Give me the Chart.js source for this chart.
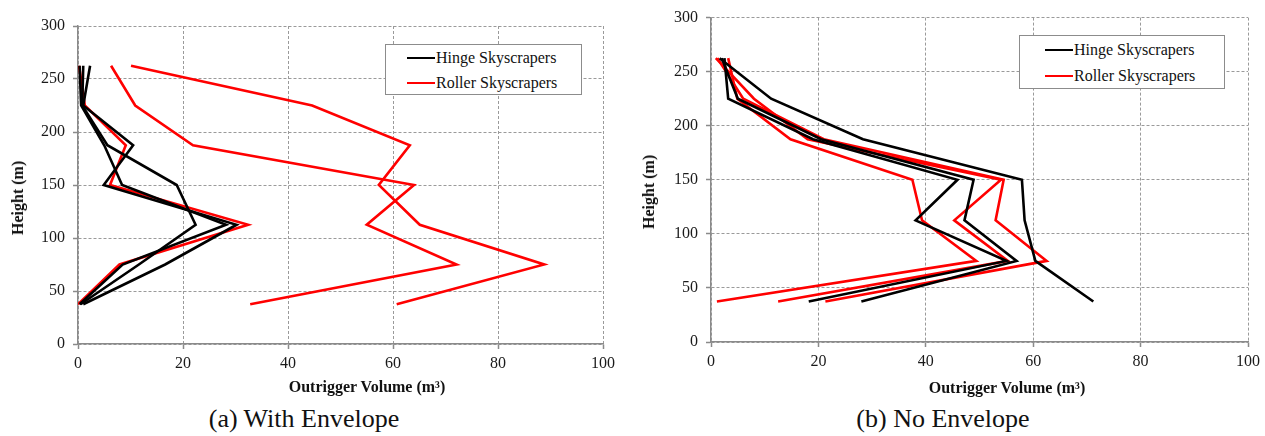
<!DOCTYPE html>
<html>
<head>
<meta charset="utf-8">
<script src="https://cdn.jsdelivr.net/npm/chart.js@4.4.1/dist/chart.umd.min.js"></script>
<style>
  html, body { margin: 0; padding: 0; background: #fff; }
  body { width: 1265px; height: 436px; position: relative; overflow: hidden;
         font-family: "Liberation Serif", "Times New Roman", serif; color: #111; }
  canvas { position: absolute; top: 0; }
  .legend { position: absolute; background: #fff; border: 1px solid #8c8c8c; font-size: 16px; }
  .legend .row { position: absolute; display: flex; align-items: center; white-space: nowrap; transform: translateY(-50%); }
  .legend .swatch { display: inline-block; width: 28px; height: 0; border-top: 2.5px solid; margin-right: 1px; }
  .ytitle { position: absolute; font-weight: bold; font-size: 16px; white-space: nowrap;
            transform: translate(-50%, -50%) rotate(-90deg); }
  .xtitle { position: absolute; font-weight: bold; font-size: 16px; white-space: nowrap;
            transform: translate(-50%, -50%); }
  .caption { position: absolute; font-size: 26px; white-space: nowrap; transform: translate(-50%, -50%); }
</style>
</head>
<body>
<canvas id="chartA" width="630" height="400" style="left:0px"></canvas>
<canvas id="chartB" width="632" height="398" style="left:633px"></canvas>

<div class="legend" style="left:385px;top:44px;width:195px;height:49px;">
  <div class="row" style="left:21px;top:13px;"><span class="swatch" style="border-color:#000"></span>Hinge Skyscrapers</div>
  <div class="row" style="left:21px;top:38px;"><span class="swatch" style="border-color:#f00"></span>Roller Skyscrapers</div>
</div>
<div class="legend" style="left:1019px;top:35px;width:204px;height:52px;">
  <div class="row" style="left:25px;top:14px;"><span class="swatch" style="border-color:#000"></span>Hinge Skyscrapers</div>
  <div class="row" style="left:25px;top:40px;"><span class="swatch" style="border-color:#f00"></span>Roller Skyscrapers</div>
</div>

<div class="ytitle" style="left:18px;top:198px;">Height (m)</div>
<div class="ytitle" style="left:649px;top:192px;">Height (m)</div>
<div class="xtitle" style="left:367px;top:387px;">Outrigger Volume (m³)</div>
<div class="xtitle" style="left:1007px;top:388px;">Outrigger Volume (m³)</div>
<div class="caption" style="left:304px;top:419px;">(a) With Envelope</div>
<div class="caption" style="left:943px;top:419px;">(b) No Envelope</div>

<script>
// Storey heights of the outrigger levels (m), top to bottom
const heights = [262.5, 225, 187.5, 150, 112.5, 75, 37.5];

// (a) With envelope: outrigger volume (m³) at each level
const hingeEnv1  = [2.3, 1.0, 10.5, 4.9, 30.2, 16.6, 1.0];
const hingeEnv2  = [0.3, 0.6, 5.0, 8.4, 28.2, 8.5, 0.3];
const hingeEnv3  = [1.0, 0.8, 5.6, 18.8, 22.4, 11.6, 0.5];
const rollerEnv1 = [0.2, 1.3, 9.1, 6.1, 32.4, 7.9, 0.0];
const rollerEnv2 = [6.3, 10.9, 21.9, 64.0, 55.0, 72.1, 32.8];
const rollerEnv3 = [10.1, 44.6, 63.2, 57.3, 65.1, 88.8, 60.7];

// (b) No envelope
const hingeNoEnv1  = [1.6, 11.2, 28.3, 57.9, 58.4, 60.4, 71.2];
const hingeNoEnv2  = [2.5, 3.2, 19.0, 45.9, 38.1, 55.0, 18.2];
const hingeNoEnv3  = [2.0, 5.0, 20.5, 48.9, 47.2, 56.9, 28.0];
const rollerNoEnv1 = [3.2, 4.9, 14.8, 37.5, 39.3, 49.4, 1.1];
const rollerNoEnv2 = [0.9, 8.0, 18.0, 54.0, 45.3, 55.3, 12.5];
const rollerNoEnv3 = [1.2, 6.0, 21.0, 54.5, 53.0, 62.5, 21.3];

// Tick settings
const xTicks = { min: 0, max: 100, step: 20 };
const yTicks = { min: 0, max: 300, step: 50 };

const FONT = "'Liberation Serif', 'Times New Roman', serif";
const GRID = '#9a9a9a';
const AXIS = '#8a8a8a';

function series(values, colour) {
  return {
    data: values.map((v, i) => ({ x: v, y: heights[i] })),
    borderColor: colour,
    backgroundColor: colour,
    borderWidth: 2.6,
    showLine: true,
    pointRadius: 0,
    pointHoverRadius: 0,
    tension: 0,
    fill: false
  };
}

function axis(range, extra) {
  return Object.assign({
    type: 'linear',
    min: range.min,
    max: range.max,
    ticks: {
      stepSize: range.step,
      color: '#1a1a1a',
      font: { family: FONT, size: 16 },
      autoSkip: false,
      maxRotation: 0
    },
    grid: {
      color: GRID,
      lineWidth: 1,
      tickLength: 5,
      tickColor: AXIS,
      tickWidth: 1.5
    },
    border: { display: true, color: AXIS, width: 1.5, dash: [3, 2] },
    title: { display: false }
  }, extra);
}

function draw(id, hinge, roller, padTop, padRight) {
  const datasets = [
    ...hinge.map(v => series(v, '#000000')),
    ...roller.map(v => series(v, '#ff0000'))
  ];
  const xAxis = axis(xTicks, { position: 'bottom', afterFit: s => { s.height = 56; } });
  xAxis.ticks.padding = 5;
  const yAxis = axis(yTicks, { position: 'left', afterFit: s => { s.width = 78; } });
  yAxis.ticks.padding = 8;
  return new Chart(document.getElementById(id), {
    type: 'scatter',
    data: { datasets },
    options: {
      responsive: false,
      devicePixelRatio: 1,
      animation: false,
      layout: { padding: { left: 0, top: padTop, right: padRight, bottom: 0 } },
      plugins: { legend: { display: false }, tooltip: { enabled: false } },
      scales: { x: xAxis, y: yAxis }
    }
  });
}

draw('chartA', [hingeEnv1, hingeEnv2, hingeEnv3], [rollerEnv1, rollerEnv2, rollerEnv3], 26, 27);
draw('chartB', [hingeNoEnv1, hingeNoEnv2, hingeNoEnv3], [rollerNoEnv1, rollerNoEnv2, rollerNoEnv3], 16, 16);
</script>
</body>
</html>
